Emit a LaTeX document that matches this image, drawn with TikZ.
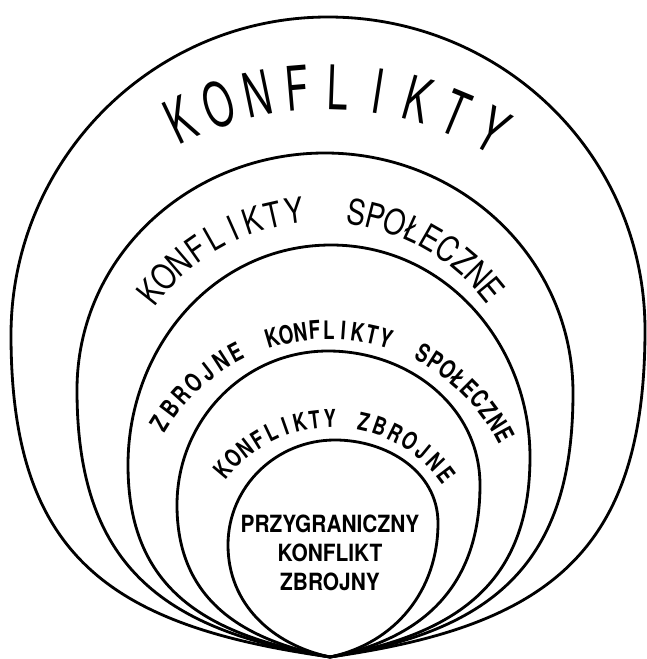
\documentclass[tikz,border=0pt]{standalone}
\usepackage{fontspec}
\usepackage{tikz}
\newfontfamily\handfont{TeX Gyre Heros}[FakeStretch=0.62]
\newfontfamily\inkfont{TeX Gyre Heros}[FakeStretch=0.8]
\newfontfamily\stampfont{TeX Gyre Heros}[FakeStretch=0.74]
\newfontfamily\boxfont{TeX Gyre Heros}[FakeStretch=0.88]

\begin{document}
\begin{tikzpicture}[
        ring/.style={
            draw,
            line width=1.6pt
        },
        letter/.style={
            inner sep=0pt,
            anchor=base
        }
    ]

        \useasboundingbox (0,0) rectangle (12.94,13.18);

        % Common bottom point of all rings
        \coordinate (base) at (6.60,0.04);

        % Rings, outer to inner
        \draw[ring] (base) to[out=172,in=-90,looseness=1.25] (0.22,6.48) to[out=90,in=180] (6.56,12.84)
            to[out=0,in=90] (12.90,6.58) to[out=-90,in=8,looseness=1.25] (base);
        \draw[ring] (base) to[out=171,in=-90,looseness=1.2] (1.54,5.38) to[out=90,in=180] (6.50,10.12)
            to[out=0,in=90] (11.46,5.32) to[out=-90,in=9,looseness=1.2] (base);
        \draw[ring] (base) to[out=170,in=-90,looseness=1.15] (2.56,3.88) to[out=90,in=180] (6.62,8.28)
            to[out=0,in=90] (10.60,4.04) to[out=-90,in=10,looseness=1.15] (base);
        \draw[ring] (base) to[out=169,in=-90,looseness=1.1] (3.54,3.08) to[out=90,in=180] (6.56,6.16)
            to[out=0,in=90] (9.60,3.48) to[out=-90,in=11,looseness=1.1] (base);
        \draw[ring] (base) to[out=168,in=-90] (4.56,2.28) to[out=90,in=180] (6.70,4.38)
            to[out=0,in=90] (8.76,2.72) to[out=-90,in=12] (base);

        % Outer label
        \begin{scope}[shift={(6.522,4.652)}, font=\handfont\fontsize{35}{35}\selectfont]
            \foreach \ch [count=\i] in {K,O,N,F,L,I,K,T,Y} {
                \pgfmathsetmacro\ang{115.4-(\i-1)*6.85}
                \node[letter, rotate=\ang-90] (kon-\i) at (\ang:6.342) {\ch};
            }
        \end{scope}

        % Second label
        \begin{scope}[shift={(6.44,4.60)}, font=\inkfont\fontsize{20}{20}\selectfont]
            \foreach \ch [count=\i] in {K,O,N,F,L,I,K,T,Y} {
                \pgfmathsetmacro\ang{141.5-(\i-1)*5.525}
                \node[letter, rotate=\ang-90] (ks-\i) at (\ang:4.14) {\ch};
            }
            \foreach \ch [count=\i] in {S,P,O,Ł,E,C,Z,N,E} {
                \pgfmathsetmacro\ang{81-(\i-1)*5.2}
                \node[letter, rotate=\ang-90] (sp-\i) at (\ang:4.14) {\ch};
            }
        \end{scope}

        % Third label
        \begin{scope}[shift={(6.572,2.598)}, font=\stampfont\bfseries\fontsize{14.5}{14.5}\selectfont]
            \foreach \ch [count=\i] in {Z,B,R,O,J,N,E} {
                \pgfmathsetmacro\ang{147.9-(\i-1)*5.03}
                \node[letter, rotate=\ang-90] (zks-\i) at (\ang:3.80) {\ch};
            }
            \foreach \ch [count=\i] in {K,O,N,F,L,I,K,T,Y} {
                \pgfmathsetmacro\ang{106.5-(\i-1)*4.15}
                \node[letter, rotate=\ang-90] (zkk-\i) at (\ang:3.80) {\ch};
            }
            \foreach \ch [count=\i] in {S,P,O,Ł,E,C,Z,N,E} {
                \pgfmathsetmacro\ang{61.7-(\i-1)*4.19}
                \node[letter, rotate=\ang-90] (zkp-\i) at (\ang:3.80) {\ch};
            }
        \end{scope}

        % Fourth label
        \begin{scope}[shift={(6.646,1.96)}, font=\stampfont\bfseries\fontsize{14}{14}\selectfont]
            \foreach \ch [count=\i] in {K,O,N,F,L,I,K,T,Y} {
                \pgfmathsetmacro\ang{140-(\i-1)*6.125}
                \node[letter, rotate=\ang-90] (kz-\i) at (\ang:2.672) {\ch};
            }
            \foreach \ch [count=\i] in {Z,B,R,O,J,N,E} {
                \pgfmathsetmacro\ang{77.2-(\i-1)*6.7}
                \node[letter, rotate=\ang-90] (zb-\i) at (\ang:2.672) {\ch};
            }
        \end{scope}

        % Innermost label
        \node[align=center, font=\boxfont\bfseries\fontsize{13.5}{16.5}\selectfont] (border) at (6.60,2.12)
            {PRZYGRANICZNY\\KONFLIKT\\ZBROJNY};

    \end{tikzpicture}
\end{document}
